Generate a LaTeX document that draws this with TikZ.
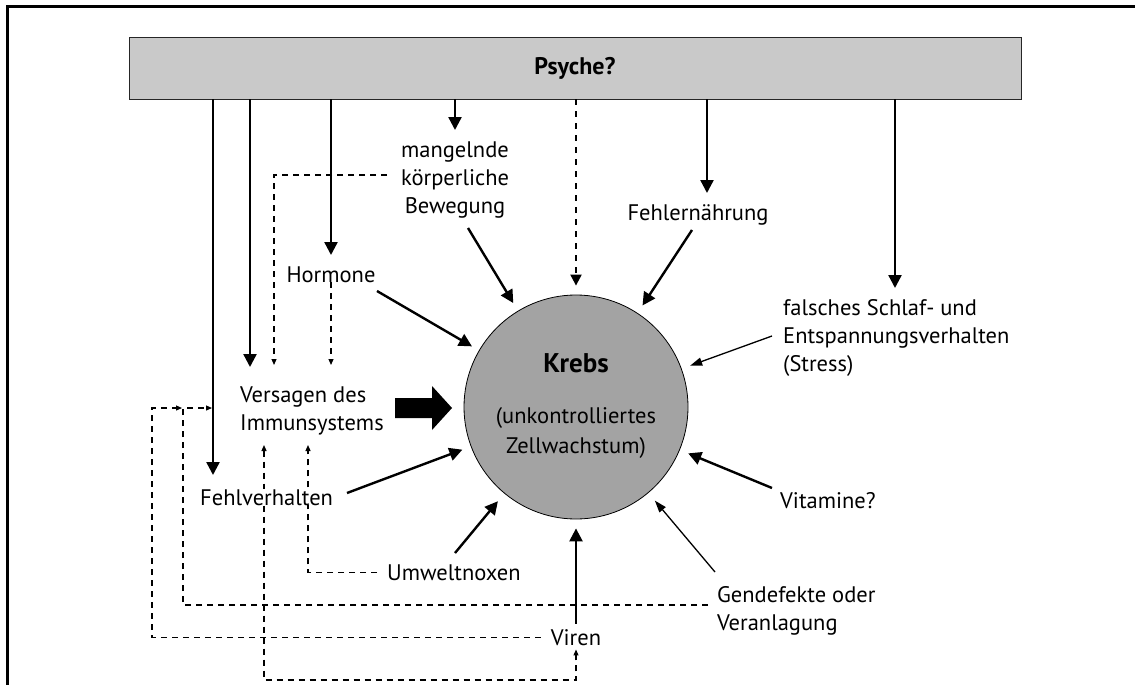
\documentclass[tikz,border=0pt]{standalone}
\usepackage{fontspec}
\setmainfont{PT Sans}
\usetikzlibrary{arrows.meta,calc}
\newcommand\txl[1]{\begin{tabular}[t]{@{}l@{}}#1\end{tabular}}
\newcommand\txc[1]{\begin{tabular}[t]{@{}c@{}}#1\end{tabular}}
\begin{document}
\begin{tikzpicture}[x=1pt,y=-1pt,
  lbl/.style={inner sep=0pt, font=\fontsize{22.5}{28}\selectfont},
  arr/.style={line width=2.4pt, -{Triangle[length=13pt,width=13pt]}},
  thinarr/.style={line width=1.3pt, -{Triangle[length=12pt,width=8pt]}},
  dsh/.style={line width=1.2pt, dash pattern=on 6pt off 5pt},
  dtip/.style={-{Triangle[length=6pt,width=5pt]}},
  bigdash/.style={line width=2pt, dash pattern=on 6pt off 6pt, -{Triangle[length=11pt,width=11pt]}}
]
\useasboundingbox (0,0) rectangle (1135,685);
% frame
\draw[line width=3pt] (7,685) -- (7,7) -- (1135,7);
% Psyche bar
\node[draw=black!85, line width=0.8pt, fill=gray!42, minimum width=892pt, minimum height=62pt, inner sep=0pt,
  font=\bfseries\fontsize{24}{28}\selectfont] (psyche) at (575,68) {Psyche?};
% central circle
\node[circle, draw, line width=0.8pt, fill=gray!72, minimum size=224pt, inner sep=0pt] (krebs) at (576,407) {};
\node[lbl, anchor=base, font=\bfseries\fontsize{27}{28}\selectfont] (krebsT) at (576,372) {Krebs};
\node[lbl, anchor=base, font=\fontsize{22.5}{30}\selectfont] (krebsU) at (576,423) {\txc{(unkontrolliertes\\Zellwachstum)}};
% labels
\node[lbl, anchor=base] (mang) at (455,157) {\txc{mangelnde\\körperliche\\Bewegung}};
\node[lbl, anchor=base] (fehlern) at (698,220) {Fehlernährung};
\node[lbl, anchor=base] (hormone) at (331,282) {Hormone};
\node[lbl, anchor=base west] (schlaf) at (783,315) {\txl{falsches Schlaf- und\\Entspannungsverhalten\\(Stress)}};
\node[lbl, anchor=base west] (vers) at (240,402) {\txl{Versagen des\\Immunsystems}};
\node[lbl, anchor=base west] (umwelt) at (387,580) {Umweltnoxen};
\node[lbl, anchor=base] (viren) at (576,645) {Viren};
\node[lbl, anchor=base west] (gen) at (717,602) {\txl{Gendefekte oder\\Veranlagung}};
\node[lbl, anchor=base west] (vit) at (780,508) {Vitamine?};
% coordinates
\coordinate (tFv) at (213,475);
\coordinate (tVers) at (250,367);
\coordinate (tHorm) at (331,255);
\coordinate (tMang) at (455,130);
\coordinate (tFehl) at (707,193);
\coordinate (tSchl) at (895,288);
\coordinate (sMang) at (468,228);
\coordinate (sFehl) at (692,230);
\coordinate (sHorm) at (377,291);
\coordinate (sStress) at (772,336);
\coordinate (sFv) at (347,493);
\coordinate (sUmw) at (455,553);
\coordinate (sGen) at (715,572);
\coordinate (sVit) at (772,488);
\coordinate (mangL) at (387,175);
\coordinate (tV1) at (274,365);
\coordinate (tV2) at (264,445);
\coordinate (tV3) at (308,445);
\coordinate (loopB) at (264,680);
\coordinate (loopL) at (152,408);
\coordinate (tJ1) at (182,408);
\coordinate (genL) at (708,605);
\coordinate (loopG) at (183,408);
\coordinate (tJ2) at (212,408);
\coordinate (bigA) at (395,408);
% arrows from Psyche
\draw[arr] (tFv |- psyche.south) -- (tFv);
\draw[arr] (tVers |- psyche.south) -- (tVers);
\draw[arr] (tHorm |- psyche.south) -- (tHorm);
\draw[arr] (tMang |- psyche.south) -- (tMang);
\draw[arr] (tFehl |- psyche.south) -- (tFehl);
\draw[arr] (tSchl |- psyche.south) -- (tSchl);
\draw[bigdash, shorten >=9pt] (psyche.south -| krebs) -- (krebs);
% arrows to Krebs
\draw[arr, shorten >=9pt] (sMang) -- (krebs);
\draw[arr, shorten >=9pt] (sFehl) -- (krebs);
\draw[arr, shorten >=8pt] (sHorm) -- (krebs);
\draw[thinarr, shorten >=9pt] (sStress) -- (krebs);
\draw[arr, shorten >=9pt] (sFv) -- (krebs);
\draw[arr, shorten >=10pt] (sUmw) -- (krebs);
\draw[arr] ([yshift=5pt]viren.north) -- ([yshift=-9pt]krebs.south);
\draw[thinarr, shorten >=10pt] (sGen) -- (krebs);
\draw[arr, shorten >=9pt] (sVit) -- (krebs);
% block arrow
\fill (bigA) ++(0,-10) -- ++(37,0) -- ++(0,-12) -- ++(20,22) -- ++(-20,22) -- ++(0,-12) -- ++(-37,0) -- cycle;
% dashed connections
\draw[dsh, dtip] (mangL) -| (tV1);
\draw[dsh, dtip] (hormone.south) -- (hormone.south |- tV1);
\draw[dsh, dtip] ([xshift=-10pt]umwelt.west) -| (tV3);
\draw[dsh, {Triangle[length=6pt,width=5pt]}-{Triangle[length=6pt,width=5pt]}] (tV2) -- (loopB) -| ([yshift=-4pt]viren.south);
\draw[dsh, dtip] ([xshift=-10pt]viren.west) -| (loopL) -- (tJ1);
\draw[dsh, dtip] (genL) -| (loopG) -- (tJ2);
% Fehlverhalten on top of dashed lines
\node[lbl, anchor=base west, fill=white] (fehlv) at (200,505) {Fehlverhalten};
\end{tikzpicture}
\end{document}
